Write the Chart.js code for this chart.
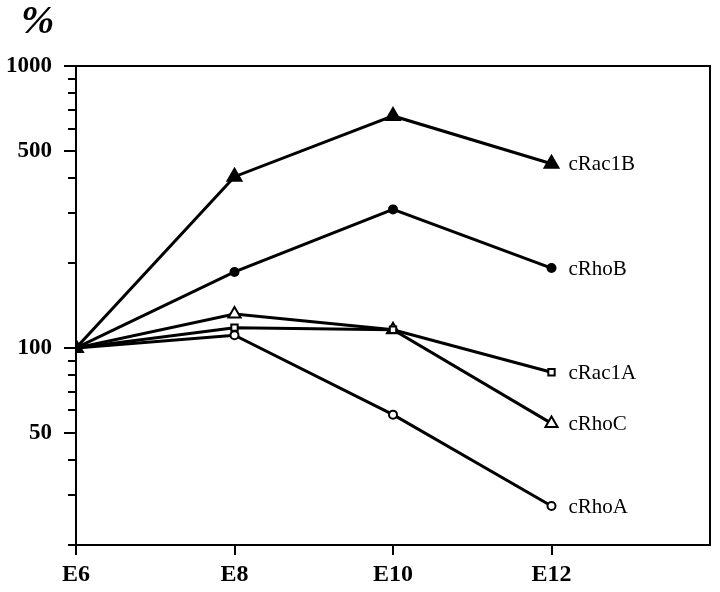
<!DOCTYPE html>
<html>
<head>
<meta charset="utf-8">
<script src="https://cdn.jsdelivr.net/npm/chart.js@4/dist/chart.umd.min.js"></script>
<style>
  html, body { margin: 0; padding: 0; background: #fff; }
  #wrap { width: 720px; height: 592px; }
</style>
</head>
<body>
<div id="wrap"><canvas id="myChart" width="720" height="592"></canvas></div>
<script>
// stages on the x axis (E6 = 0, E8 = 1 ...)
var stages = ["E6", "E8", "E10", "E12"];

// relative expression in %
var cRac1B = [100, 405, 665, 450];
var cRhoB = [100, 186, 310, 192];
var cRac1A = [100, 118, 116, 82];
var cRhoC = [100, 132, 116, 54];
var cRhoA = [100, 111, 58, 27.5];

var yLabelTicks = [50, 100, 500, 1000];
var yAllTicks = [20, 30, 40, 50, 60, 70, 80, 90, 100, 200, 300, 400, 500, 600, 700, 800, 900, 1000];

function pts(arr) {
    return arr.map(function(v, i) { return { x: i, y: v }; });
}

var serif = "'Liberation Serif', 'Times New Roman', serif";

var decor = {
    id: 'decor',
    afterDraw: function(chart) {
        var c = chart.ctx, a = chart.chartArea;
        var ys = chart.scales.y, xs = chart.scales.x;
        c.save();
        c.strokeStyle = '#000';
        c.lineWidth = 2;
        // top and right frame
        c.beginPath();
        c.moveTo(a.left, a.top);
        c.lineTo(a.right, a.top);
        c.lineTo(a.right, a.bottom);
        c.stroke();
        // y ticks
        yAllTicks.forEach(function(v) {
            var y = Math.round(ys.getPixelForValue(v));
            var len = (yLabelTicks.indexOf(v) >= 0) ? 12 : 8;
            c.beginPath();
            c.moveTo(a.left - len, y);
            c.lineTo(a.left, y);
            c.stroke();
        });
        // x ticks
        stages.forEach(function(s, i) {
            var x = Math.round(xs.getPixelForValue(i));
            c.beginPath();
            c.moveTo(x, a.bottom);
            c.lineTo(x, a.bottom + 10);
            c.stroke();
        });
        c.beginPath();
        c.moveTo(a.left - 8, a.bottom);
        c.lineTo(a.left, a.bottom);
        c.stroke();
        // series names next to last point
        c.fillStyle = '#000';
        c.font = "21px " + serif;
        c.textBaseline = 'middle';
        c.textAlign = 'left';
        chart.data.datasets.forEach(function(ds, i) {
            var meta = chart.getDatasetMeta(i);
            var p = meta.data[meta.data.length - 1];
            c.fillText(ds.label, p.x + 17, p.y + 1);
        });
        // % sign
        c.font = "italic bold 40px " + serif;
        c.textBaseline = 'alphabetic';
        c.fillText("%", 21, 33);
        c.restore();
    }
};

function series(label, data, style, radius, filled) {
    return {
        label: label,
        data: pts(data),
        borderColor: '#000',
        borderWidth: 3,
        pointStyle: style,
        pointRadius: radius,
        pointBorderWidth: 2,
        pointBorderColor: '#000',
        pointBackgroundColor: filled ? '#000' : '#fff',
        fill: false,
        tension: 0
    };
}

var ctx = document.getElementById("myChart");

new Chart(ctx, {
    type: 'line',
    data: {
        datasets: [
            series("cRac1B", cRac1B, 'triangle', 8, true),
            series("cRhoB", cRhoB, 'circle', 4, true),
            series("cRac1A", cRac1A, 'rect', 4.5, false),
            series("cRhoC", cRhoC, 'triangle', 7, false),
            series("cRhoA", cRhoA, 'circle', 4, false)
        ]
    },
    options: {
        responsive: false,
        animation: false,
        layout: {
            padding: { left: 0, right: 8, top: 66, bottom: 0 }
        },
        scales: {
            x: {
                type: 'linear',
                min: 0,
                max: 4,
                afterBuildTicks: function(scale) {
                    scale.ticks = stages.map(function(s, i) { return { value: i }; });
                },
                afterFit: function(scale) { scale.height = 47; },
                grid: { display: false },
                border: { display: true, color: '#000', width: 2 },
                ticks: {
                    autoSkip: false,
                    maxRotation: 0,
                    padding: 7,
                    color: '#000',
                    font: { family: serif, size: 24, weight: 'bold' },
                    callback: function(value) { return stages[value]; }
                }
            },
            y: {
                type: 'logarithmic',
                min: 20,
                max: 1000,
                afterBuildTicks: function(scale) {
                    scale.ticks = yAllTicks.map(function(v) { return { value: v }; });
                },
                afterFit: function(scale) { scale.width = 76; },
                grid: { display: false },
                border: { display: true, color: '#000', width: 2 },
                ticks: {
                    autoSkip: false,
                    padding: 16,
                    color: '#000',
                    font: { family: serif, size: 23, weight: 'bold' },
                    callback: function(value) {
                        return yLabelTicks.indexOf(value) >= 0 ? String(value) : '';
                    }
                }
            }
        },
        plugins: {
            legend: { display: false },
            tooltip: { enabled: false }
        }
    },
    plugins: [decor]
});
</script>
</body>
</html>
